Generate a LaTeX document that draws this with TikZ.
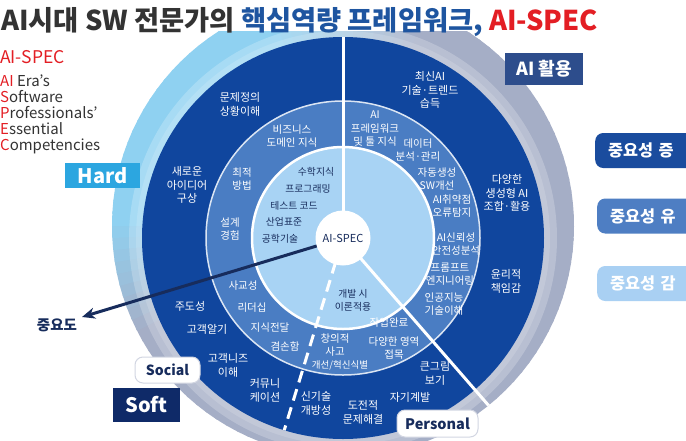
\documentclass[tikz,border=0pt]{standalone}
\usepackage{fontspec}
\setmainfont{Noto Sans CJK KR}
\usetikzlibrary{arrows.meta,calc}
\definecolor{ringlight}{HTML}{8FD1F1}
\definecolor{ringgray}{HTML}{A5AEC6}
\definecolor{darkring}{HTML}{10469E}
\definecolor{midring}{HTML}{4A7DC3}
\definecolor{innerc}{HTML}{A8D3F4}
\definecolor{navy}{HTML}{172C5C}
\definecolor{hardc}{HTML}{2CA6E0}
\definecolor{aic}{HTML}{2D4D8C}
\definecolor{softc}{HTML}{0F2A68}
\definecolor{boxa}{HTML}{1A4C9E}
\definecolor{boxb}{HTML}{4E7EC3}
\definecolor{boxc}{HTML}{A9D0F3}
\definecolor{titlegray}{HTML}{333333}
\definecolor{titleblue}{HTML}{1E55A0}
\definecolor{specred}{HTML}{E31E24}
\begin{document}
\begin{tikzpicture}[x=1pt,y=-1pt,
  outtxt/.style={text=white,align=center,inner sep=0pt,font=\fontsize{11}{13.8}\selectfont},
  midtxt/.style={text=white,align=center,inner sep=0pt,font=\fontsize{10.5}{13.5}\selectfont},
  intxt/.style={text=navy,align=center,inner sep=0pt,font=\fontsize{9.8}{13}\selectfont},
  divider/.style={white,line width=3pt},
  imbox/.style={anchor=west,minimum height=35pt,text width=95pt,align=left,inner xsep=13pt,rounded corners=8pt,text=white,font=\fontsize{16.3}{18}\selectfont\bfseries},
  tagbox/.style={inner sep=0pt,text=white,font=\bfseries},
  pillbox/.style={fill=white,draw=ringgray!50,line width=1pt,rounded corners=8pt,inner sep=0pt,text=navy}
]
\clip (0,0) rectangle (686,440);
\fill[white] (0,0) rectangle (686,440);
\coordinate (cen) at (343,238);
\coordinate (gcen) at (343,226);
% gradient ring (outer band)
\begin{scope}[shift={(gcen)}]
\foreach \a in {0,3,...,357}{
  \pgfmathtruncatemacro\t{100*max(0,min(1,(\a-150)/30,(290-\a)/40))}
  \pgfmathsetmacro\b{\a+3.6}
  \fill[ringlight!\t!ringgray] (\a:231) arc[start angle=\a,end angle=\b,radius=231] -- (\b:150) arc[start angle=\b,end angle=\a,radius=150] -- cycle;
}
\end{scope}
\begin{scope}[shift={(cen)}]
\fill[white,opacity=0.22] (0,0) circle[radius=214];
\fill[white,opacity=0.15] (0,0) circle[radius=207];
\fill[darkring] (0,0) circle[radius=201];
\fill[midring,draw=white!80!midring,line width=1.5pt] (0,0) circle[radius=137];
\fill[innerc,draw=white,line width=2.5pt] (0,0) circle[radius=91];
\end{scope}
% title band
\fill[white] (0,0) rectangle (686,31);
% dividers and arrow
\coordinate (topend) at ($(cen)+(0,-201)$);
\coordinate (persend) at ($(cen)+(49:222)$);
\coordinate (dashend) at ($(cen)+(107:201)$);
\coordinate (arrtip) at (82,317);
\draw[divider] (cen) -- (topend);
\draw[divider] (cen) -- (persend);
\draw[divider,dash pattern=on 12pt off 7pt,dash phase=-6pt] (cen) -- (dashend);
\draw[navy,line width=3pt,-{Stealth[length=13pt,width=11pt,inset=4pt]}] (cen) -- (arrtip);
\node[circle,fill=white,minimum size=55pt,inner sep=0pt,text=navy,font=\fontsize{11}{12}\selectfont] (core) at (cen) {AI-SPEC};
% outer (dark) ring texts
\node[outtxt] (o1) at (240,104) {문제정의\\상황이해};
\node[outtxt] (o2) at (187,185) {새로운\\아이디어\\구상};
\node[outtxt] (o3) at (430,90) {최신AI\\기술·트렌드\\습득};
\node[outtxt] (o4) at (507,193) {다양한\\생성형 AI\\조합·활용};
\node[outtxt] (o5) at (506,281) {윤리적\\책임감};
\node[outtxt] (o6) at (190,306) {주도성};
\node[outtxt] (o7) at (207,329) {고객알기};
\node[outtxt] (o8) at (228,365) {고객니즈\\이해};
\node[outtxt] (o9) at (265,390) {커뮤니\\케이션};
\node[outtxt] (o10) at (316,403) {신기술\\개방성};
\node[outtxt] (o11) at (363,412) {도전적\\문제해결};
\node[outtxt] (o12) at (410,397) {자기계발};
\node[outtxt] (o13) at (435,373) {큰그림\\보기};
% middle ring texts
\node[midtxt] (m1) at (292,136) {비즈니스\\도메인 지식};
\node[midtxt] (m2) at (242,179) {최적\\방법};
\node[midtxt] (m3) at (230,229) {설계\\경험};
\node[midtxt] (m4) at (243,286) {사교성};
\node[midtxt] (m5) at (252,308) {리더십};
\node[midtxt] (m6) at (270,328) {지식전달};
\node[midtxt] (m7) at (285,346) {겸손함};
\node[midtxt] (m8) at (335,345) {창의적\\사고};
\node[midtxt,font=\fontsize{9.5}{12}\selectfont] (m9) at (340,365) {개선/혁신식별};
\node[midtxt] (m10) at (394,348) {다양한 영역\\접목};
\node[midtxt] (m11) at (389,323) {작업완료};
\node[midtxt] (m12) at (375,129) {AI\\프레임워크\\및 툴 지식};
\node[midtxt] (m13) at (418,150) {데이터\\분석·관리};
\node[midtxt] (m14) at (437,179) {자동생성\\SW개선};
\node[midtxt] (m15) at (452,206) {AI취약점\\오류탐지};
\node[midtxt] (m16) at (456,244) {AI신뢰성\\안전성분석};
\node[midtxt] (m17) at (450,274) {프롬프트\\엔지니어링};
\node[midtxt] (m18) at (444,304) {인공지능\\기술이해};
% inner circle texts
\node[intxt] (i1) at (316,172) {수학지식};
\node[intxt] (i2) at (308,189) {프로그래밍};
\node[intxt] (i3) at (294,206) {테스트 코드};
\node[intxt] (i4) at (284,222) {산업표준};
\node[intxt] (i5) at (280,239) {공학기술};
\node[intxt] (i6) at (353,300) {개발 시\\이론적용};
% title
\node[anchor=base west,inner sep=0pt,font=\fontsize{27.3}{30}\selectfont\bfseries] (title) at (1,30)
  {\textcolor{titlegray}{AI시대 SW 전문가의 }\textcolor{titleblue}{핵심역량 프레임워크,} \textcolor{specred}{AI-SPEC}};
% left legend
\node[anchor=west,inner sep=0pt,text=specred,font=\fontsize{17.5}{19}\selectfont] (spec) at (0,57) {AI-SPEC};
\node[anchor=north west,inner sep=0pt,align=left,text=titlegray,font=\fontsize{15}{15.8}\selectfont] (legend) at (0,75)
  {\textcolor{specred}{AI} Era's\\\textcolor{specred}{S}oftware\\\textcolor{specred}{P}rofessionals'\\\textcolor{specred}{E}ssential\\\textcolor{specred}{C}ompetencies};
% tags
\node[tagbox,fill=hardc,minimum width=75pt,minimum height=25pt,font=\fontsize{20}{22}\selectfont\bfseries] (hard) at (102.5,175.5) {Hard};
\node[tagbox,fill=aic,minimum width=78pt,minimum height=32pt,font=\fontsize{18}{20}\selectfont\bfseries] (aiuse) at (544,69) {AI 활용};
\node[tagbox,fill=softc,minimum width=67pt,minimum height=34pt,font=\fontsize{20}{22}\selectfont\bfseries] (soft) at (146.5,405) {Soft};
\node[pillbox,minimum width=65pt,minimum height=26pt,font=\fontsize{14}{16}\selectfont\bfseries] (social) at (167.5,370) {Social};
\node[pillbox,minimum width=81pt,minimum height=27pt,font=\fontsize{14.5}{16}\selectfont\bfseries] (personal) at (437.5,423.5) {Personal};
\node[inner sep=0pt,text=navy,font=\fontsize{14.5}{16}\selectfont\bfseries] (imp) at (57,325) {중요도};
% right boxes
\node[imbox,fill=boxa] (inc) at (595,150.5) {중요성 증};
\node[imbox,fill=boxb] (keep) at (597,216) {중요성 유};
\node[imbox,fill=boxc] (dec) at (597,283.5) {중요성 감};
\end{tikzpicture}
\end{document}
